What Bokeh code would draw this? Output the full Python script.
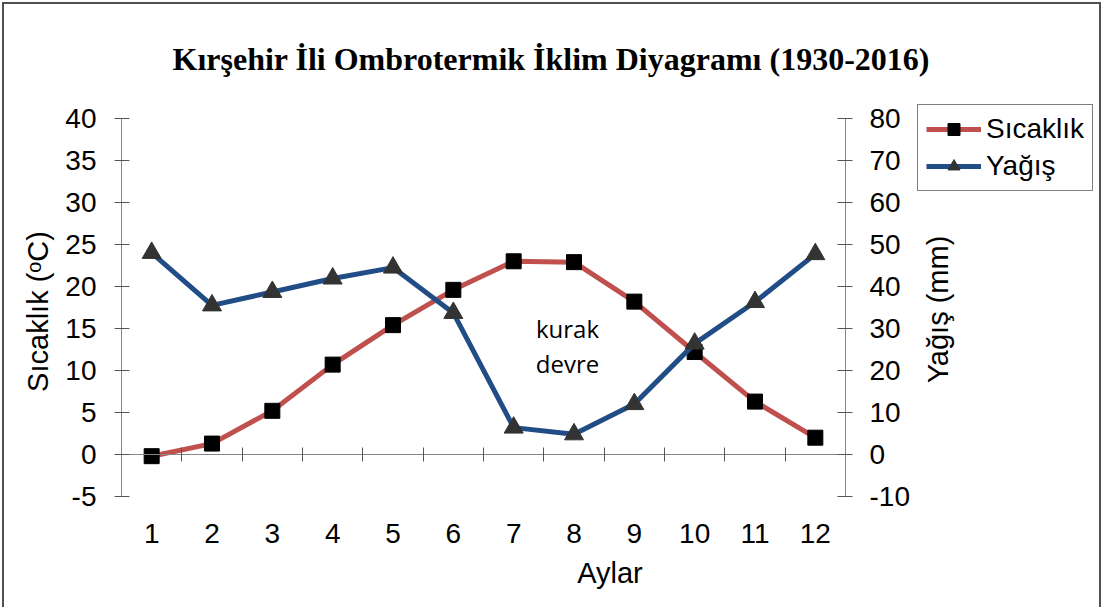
import math
from bokeh.plotting import figure
from bokeh.models import (Range1d, LinearAxis, FixedTicker, Legend, LegendItem,
                          Label, ColumnDataSource)
from bokeh.embed import file_html
from bokeh.resources import INLINE

# ---------------- data ----------------
months = [1, 2, 3, 4, 5, 6, 7, 8, 9, 10, 11, 12]
month_labels = [str(m) for m in months]
temperature = [-0.2, 1.3, 5.2, 10.7, 15.4, 19.6, 23.0, 22.9, 18.2, 12.2, 6.3, 2.0]
precipitation = [48.0, 35.5, 38.7, 41.9, 44.5, 33.7, 6.4, 4.8, 12.0, 26.4, 36.3, 47.7]
temp_ticks = [-5, 0, 5, 10, 15, 20, 25, 30, 35, 40]
precip_ticks = [-10, 0, 10, 20, 30, 40, 50, 60, 70, 80]

title_text = "Kırşehir İli Ombrotermik İklim Diyagramı (1930-2016)"
xlabel = "Aylar"
ylabel_left = "Sıcaklık (ᵒC)"
ylabel_right = "Yağış (mm)"
series_names = ["Sıcaklık", "Yağış"]
note_lines = ["kurak", "devre"]

# ---------------- layout / style (page pixels) ----------------
OFF = 4                       # figure is shifted by a CSS margin so its outline is visible
W, H = 1095, 603
FRAME_L, FRAME_R, FRAME_T, FRAME_B = 121, 1098, 100, 522
AXIS_R_PX = 845               # page pixel of the right axis
Y_TOP_PX, Y_BOT_PX = 118, 496 # page pixels of the 40 and -5 ticks
PXM = (AXIS_R_PX - FRAME_L) / len(months)
PXY = (Y_BOT_PX - Y_TOP_PX) / (temp_ticks[-1] - temp_ticks[0])
x_start = months[0] - 0.5
x_end = x_start + (FRAME_R - FRAME_L) / PXM
y_end = temp_ticks[-1] + (Y_TOP_PX - FRAME_T) / PXY
y_start = temp_ticks[0] - (FRAME_B - Y_BOT_PX) / PXY
ratio = (precip_ticks[-1] - precip_ticks[0]) / (temp_ticks[-1] - temp_ticks[0])

def px_to_x(px):
    return x_start + (px - FRAME_L) / PXM

def px_to_y(py):
    return temp_ticks[0] + (Y_BOT_PX - py) / PXY

RED = "#C0504D"
BLUE = "#214D86"
AXIS = "#868686"
TICK = "#555555"
SANS = "Liberation Sans"
FS = "28px"
FS_LAB = "29px"

src = ColumnDataSource(dict(m=months, t=temperature, r=precipitation))

p = figure(width=W, height=H, output_backend="svg", toolbar_location=None,
           x_range=Range1d(x_start, x_end), y_range=Range1d(y_start, y_end),
           min_border_left=FRAME_L - OFF, min_border_right=W + OFF - FRAME_R,
           min_border_top=FRAME_T - OFF, min_border_bottom=H + OFF - FRAME_B)
p.extra_y_ranges = {"rain": Range1d(precip_ticks[0] + ratio * (y_start - temp_ticks[0]),
                                    precip_ticks[0] + ratio * (y_end - temp_ticks[0]))}
p.outline_line_color = None
p.xgrid.visible = False
p.ygrid.visible = False
p.background_fill_color = "white"
p.border_fill_color = "white"
p.styles = {"margin": f"{OFF}px {OFF}px 0px {OFF}px",
            "outline": "2px solid #505050", "outline-offset": "0px"}

# title
p.title.text = title_text
p.title.text_font = "Liberation Serif"
p.title.text_font_size = "32px"
p.title.text_font_style = "bold"
p.title.align = "left"
p.title.offset = 172 - FRAME_L
p.title.standoff = 48
p.title.text_color = "black"

def style_axis(ax):
    ax.major_label_text_font = SANS
    ax.major_label_text_font_size = FS
    ax.major_label_text_color = "black"
    ax.axis_label_text_font = SANS
    ax.axis_label_text_font_size = FS_LAB
    ax.axis_label_text_font_style = "normal"
    ax.axis_label_text_color = "black"
    ax.minor_tick_line_color = None

# bottom axis: labels only
xa = p.xaxis[0]
xa.ticker = FixedTicker(ticks=months)
xa.major_label_overrides = {m: s for m, s in zip(months, month_labels)}
style_axis(xa)
xa.axis_line_color = None
xa.major_tick_line_color = None
xa.major_tick_in = 0
xa.major_tick_out = 0
xa.major_label_standoff = 1
xa.axis_label = xlabel
xa.axis_label_standoff = 11

# zero line axis with boundary ticks
zero_ax = LinearAxis(fixed_location=0, bounds=(x_start, months[-1] + 0.5),
                     ticker=FixedTicker(ticks=[m - 0.5 for m in months] + [months[-1] + 0.5]))
zero_ax.axis_line_color = AXIS
zero_ax.major_tick_line_color = TICK
zero_ax.major_tick_in = 7
zero_ax.major_tick_out = 7
zero_ax.minor_tick_line_color = None
zero_ax.major_label_text_font_size = "0px"
zero_ax.major_label_text_alpha = 0
p.add_layout(zero_ax, "below")

# left axis
ya = p.yaxis[0]
ya.ticker = FixedTicker(ticks=temp_ticks)
ya.bounds = (temp_ticks[0], temp_ticks[-1])
ya.major_label_overrides = {t: str(t) for t in temp_ticks}
style_axis(ya)
ya.axis_line_color = AXIS
ya.major_tick_line_color = TICK
ya.major_tick_in = 8
ya.major_tick_out = 7
ya.major_label_standoff = 18
ya.axis_label = ylabel_left
ya.axis_label_standoff = 8

# right axis (fixed at the right edge of the month range)
ra = LinearAxis(y_range_name="rain", fixed_location=months[-1] + 0.5,
                bounds=(precip_ticks[0], precip_ticks[-1]),
                ticker=FixedTicker(ticks=precip_ticks))
ra.major_label_overrides = {t: str(t) for t in precip_ticks}
style_axis(ra)
ra.axis_line_color = AXIS
ra.major_tick_line_color = TICK
ra.major_tick_in = 8
ra.major_tick_out = 7
ra.major_label_standoff = 17
p.add_layout(ra, "right")

p.add_layout(Label(x=px_to_x(937), y=px_to_y(309), text=ylabel_right,
                   angle=math.pi / 2, text_align="center", text_baseline="middle",
                   text_font=SANS, text_font_size=FS_LAB, text_color="black"))

# series
l1 = p.line("m", "t", source=src, line_color=RED, line_width=5)
s1 = p.scatter("m", "t", source=src, marker="square", size=15,
               fill_color="black", line_color="black")
l2 = p.line("m", "r", source=src, y_range_name="rain", line_color=BLUE, line_width=5)
s2 = p.scatter("m", "r", source=src, y_range_name="rain", marker="triangle", size=19,
               fill_color="#333333", line_color="#333333")

legend = Legend(items=[LegendItem(label=series_names[0], renderers=[l1, s1]),
                       LegendItem(label=series_names[1], renderers=[l2, s2])],
                location=(917 - FRAME_L, FRAME_B - 191))
legend.label_text_font = SANS
legend.label_text_font_size = FS
legend.label_text_color = "black"
legend.glyph_width = 55
legend.glyph_height = 30
legend.label_standoff = 5
legend.spacing = 5
legend.padding = 8
legend.margin = 0
legend.border_line_color = "black"
legend.border_line_width = 1
legend.background_fill_color = "white"
legend.background_fill_alpha = 1
p.add_layout(legend)

# annotation
for txt, py in zip(note_lines, [328, 363]):
    p.add_layout(Label(x=px_to_x(567), y=px_to_y(py), text=txt, text_align="center",
                       text_baseline="alphabetic", text_font="Open Sans",
                       text_font_size="24px", text_color="black"))

open("out.html", "w").write(file_html(p, INLINE))
